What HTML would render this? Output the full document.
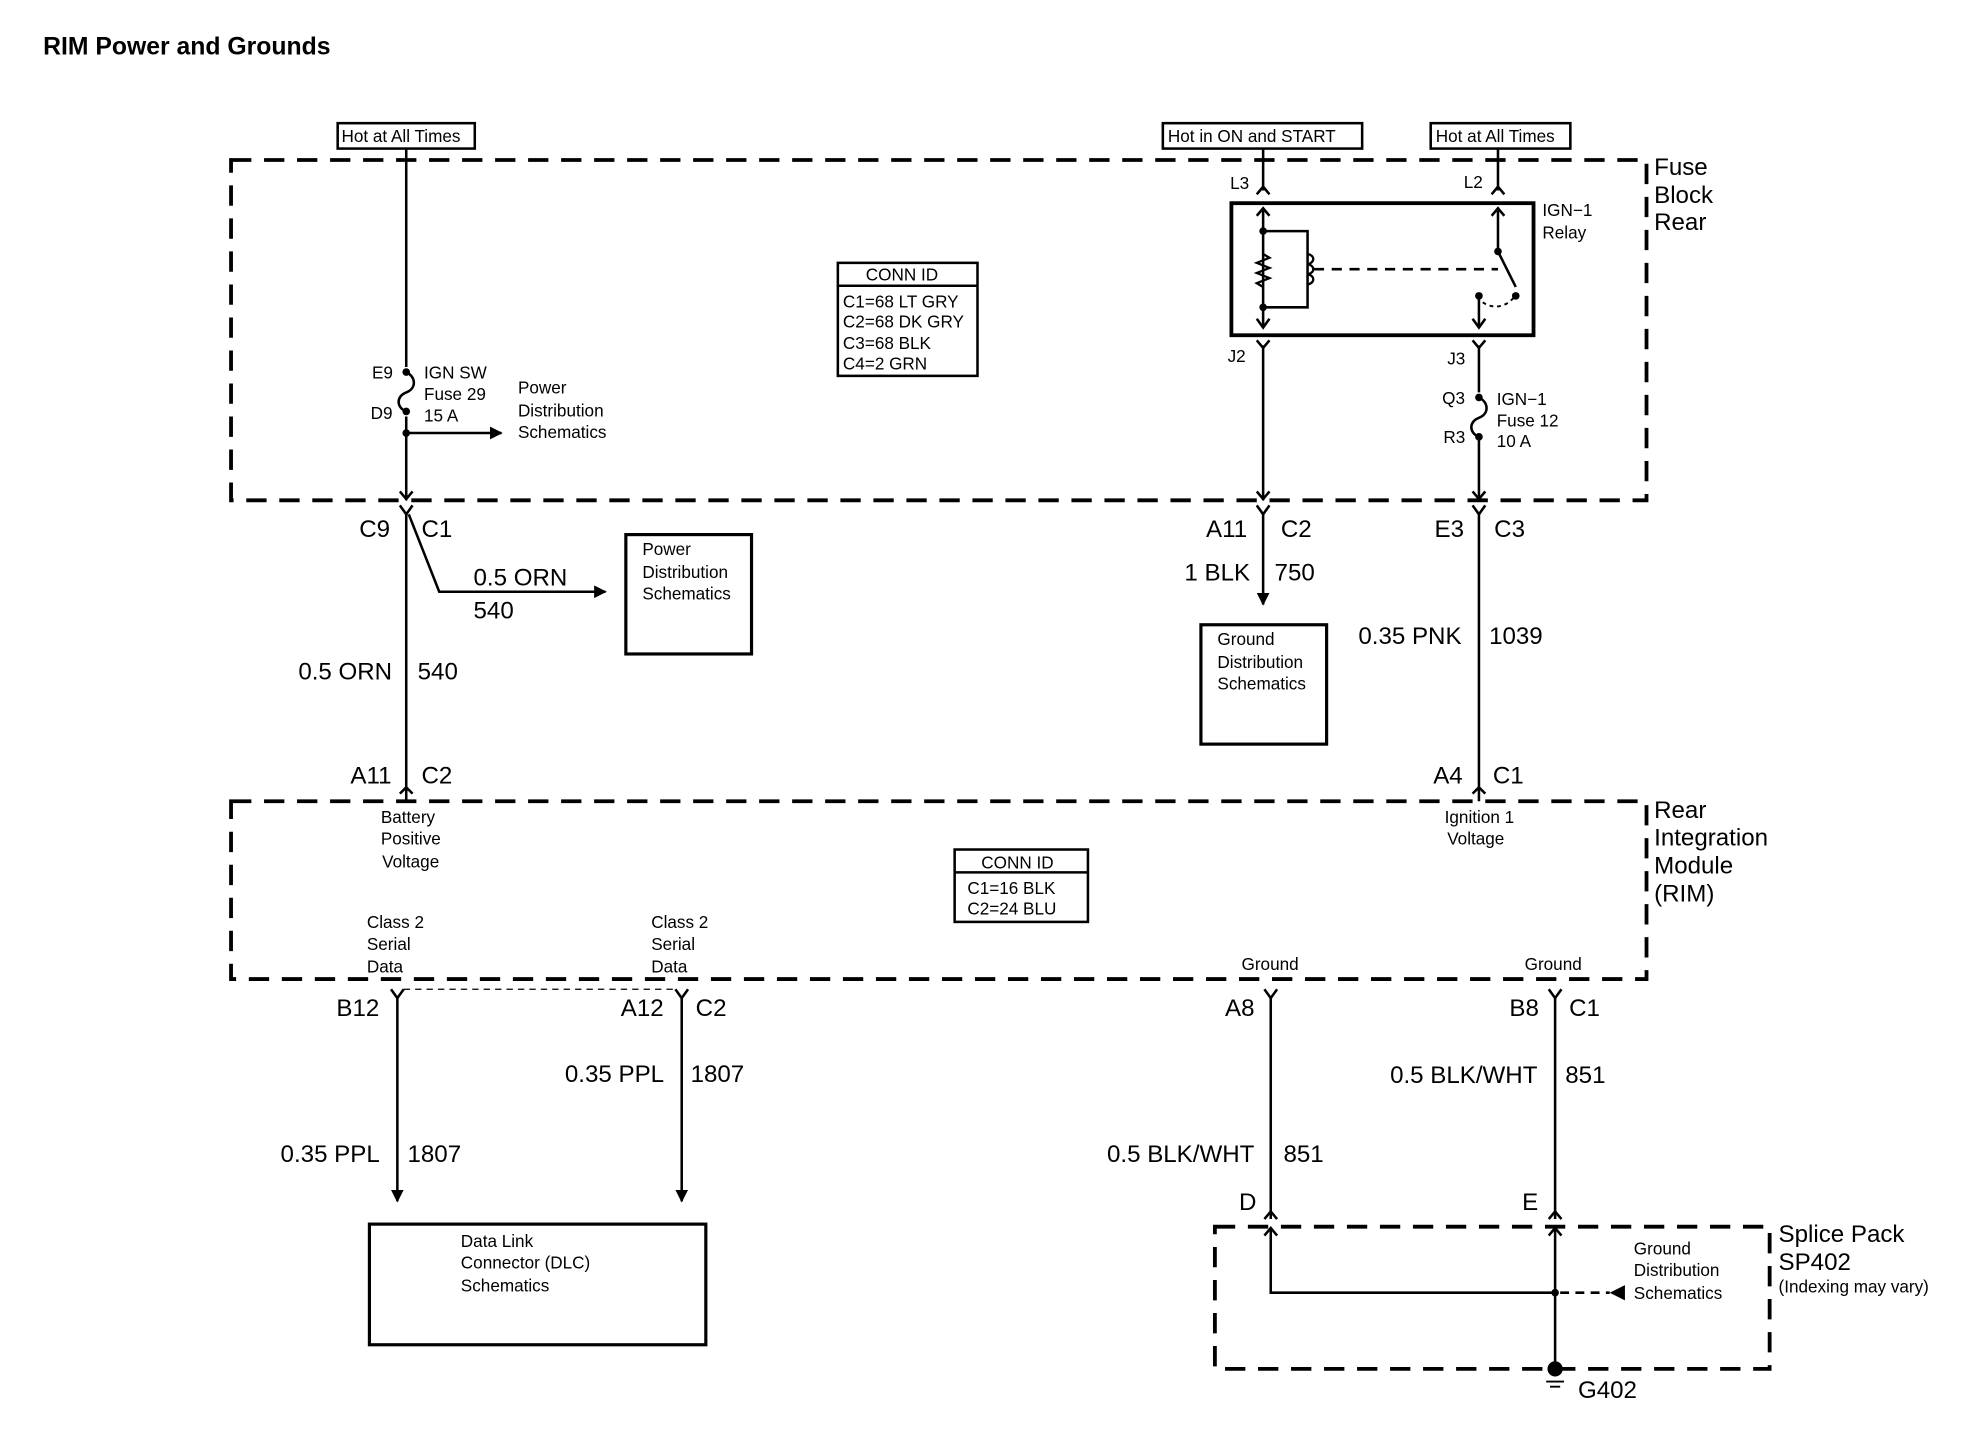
<!DOCTYPE html>
<html><head><meta charset="utf-8"><style>
html,body{margin:0;padding:0;background:#fff}
svg{display:block}
text{font-family:"Liberation Sans",Arial,sans-serif;fill:#000}
.s{font-size:13.5px}
.m{font-size:19px}
.b{font-size:19px}
</style></head><body>
<svg width="1988" height="1440" viewBox="0 0 1566 1134" preserveAspectRatio="none" xmlns="http://www.w3.org/2000/svg">
<defs>
<marker id="ah" markerWidth="10" markerHeight="10" refX="9" refY="5" orient="auto" markerUnits="userSpaceOnUse"><path d="M0,0 L10,5 L0,10 Z" fill="#000"/></marker>
</defs>
<rect width="1566" height="1134" fill="#fff"/>
<text x="34" y="43" style="font-size:19.5px;font-weight:bold">RIM Power and Grounds</text>

<g fill="none" stroke="#000">
<rect x="182" y="126" width="1115" height="268" stroke-width="3" stroke-dasharray="16,10"/>
<rect x="182" y="631" width="1115" height="140" stroke-width="3" stroke-dasharray="16,10"/>
<rect x="957" y="966" width="437" height="112" stroke-width="3" stroke-dasharray="16,10"/>

<rect x="266" y="97" width="108" height="20" stroke-width="2"/>
<rect x="916" y="97" width="157" height="20" stroke-width="2"/>
<rect x="1127" y="97" width="110" height="20" stroke-width="2"/>

<path d="M320 117 V289 M320 328 V394" stroke-width="2"/>
<path d="M320 293 C328 297,328 306,320 309 C312 312,312 321,320 324" stroke-width="2"/>
<path d="M315 387 L320 393 L325 387" stroke-width="2"/>
<path d="M320 341 H395" stroke-width="2" marker-end="url(#ah)"/>
<path d="M320 404 V631" stroke-width="2"/>
<path d="M315 398 L320 405 L325 398" stroke-width="2"/>
<path d="M322 405 L346 466 H477" stroke-width="2" marker-end="url(#ah)"/>
<rect x="493" y="421" width="99" height="94" stroke-width="2.5"/>
<path d="M315 625 L320 620 L325 625" stroke-width="2"/>

<rect x="660" y="207" width="110" height="89" stroke-width="2"/>
<path d="M660 225 H770" stroke-width="2"/>
<rect x="752" y="669" width="105" height="57" stroke-width="2"/>
<path d="M752 687 H857" stroke-width="2"/>

<path d="M995 117 V150 M1180 117 V150" stroke-width="2"/>
<path d="M990 153 L995 147 L1000 153 M1175 153 L1180 147 L1185 153" stroke-width="2"/>
<rect x="970" y="160" width="238" height="104" stroke-width="3"/>
<path d="M995 164 V258" stroke-width="2"/>
<path d="M990 170 L995 164 L1000 170 M990 251 L995 258 L1000 251" stroke-width="2"/>
<path d="M995 182 H1030 V242 H995" stroke-width="2"/>
<path d="M995 200 L1000 203 L990 207 L1000 211 L990 215 L1000 219 L990 223 L995 226" stroke-width="1.8"/>
<path d="M1030 200 C1036 201,1036 207,1030 208 C1036 209,1036 215,1030 216 C1036 217,1036 223,1030 224" stroke-width="1.8"/>
<path d="M1035 212 H1180" stroke-width="2" stroke-dasharray="8,6"/>
<path d="M1180 164 V198" stroke-width="2"/>
<path d="M1175 170 L1180 164 L1185 170" stroke-width="2"/>
<path d="M1180 198 L1194 226" stroke-width="2"/>
<path d="M1165 233 V258" stroke-width="2"/>
<path d="M1160 251 L1165 258 L1170 251" stroke-width="2"/>
<path d="M1168 238 C1176 244,1188 242,1194 232" stroke-width="1.5" stroke-dasharray="3,3"/>
<path d="M990 268 L995 274 L1000 268 M1160 268 L1165 274 L1170 268" stroke-width="2"/>
<path d="M995 272 V394 M1165 272 V309 M1165 346 V394" stroke-width="2"/>
<path d="M1165 313 C1173 317,1173 326,1165 329 C1157 332,1157 341,1165 344" stroke-width="2"/>
<path d="M990 387 L995 393 L1000 387 M1160 387 L1165 393 L1170 387" stroke-width="2"/>
<path d="M990 398 L995 405 L1000 398 M1160 398 L1165 405 L1170 398" stroke-width="2"/>
<path d="M995 405 V476" stroke-width="2" marker-end="url(#ah)"/>
<rect x="946" y="492" width="99" height="94" stroke-width="2.5"/>
<path d="M1165 405 V631" stroke-width="2"/>
<path d="M1160 625 L1165 620 L1170 625" stroke-width="2"/>

<path d="M308 779 L313 786 L318 779 M532 779 L537 786 L542 779 M996 779 L1001 786 L1006 779 M1220 779 L1225 786 L1230 779" stroke-width="2"/>
<path d="M318 779 H532" stroke-width="1" stroke-dasharray="5,4"/>
<path d="M313 786 V946" stroke-width="2" marker-end="url(#ah)"/>
<path d="M537 786 V946" stroke-width="2" marker-end="url(#ah)"/>
<rect x="291" y="964" width="265" height="95" stroke-width="2.5"/>
<path d="M1001 786 V960 M1225 786 V960" stroke-width="2"/>
<path d="M996 960 L1001 954 L1006 960 M1220 960 L1225 954 L1230 960" stroke-width="2"/>
<path d="M996 973 L1001 967 L1006 973 M1220 973 L1225 967 L1230 973" stroke-width="2"/>
<path d="M1001 967 V1018 H1225 M1225 967 V1078" stroke-width="2"/>
<path d="M1229 1018 H1268" stroke-width="2" stroke-dasharray="7,5"/>
<path d="M1218 1088 H1232 M1221 1092 H1229" stroke-width="1.5"/>
</g>
<path d="M1280 1012 L1268 1018 L1280 1024 Z" fill="#000"/>
<circle cx="1225" cy="1018" r="3" fill="#000"/>
<circle cx="1225" cy="1078" r="6" fill="#000"/>
<g fill="#000">
<circle cx="320" cy="293" r="3"/><circle cx="320" cy="324" r="3"/><circle cx="320" cy="341" r="3"/>
<circle cx="1165" cy="313" r="3"/><circle cx="1165" cy="344" r="3"/>
<circle cx="995" cy="182" r="3"/><circle cx="995" cy="242" r="3"/>
<circle cx="1180" cy="198" r="3"/><circle cx="1194" cy="233" r="3"/><circle cx="1165" cy="233" r="3"/>
</g>

<g class="s">
<text x="269" y="112">Hot at All Times</text>
<text x="920" y="112">Hot in ON and START</text>
<text x="1131" y="112">Hot at All Times</text>
<text x="969" y="149">L3</text>
<text x="1153" y="148">L2</text>
<text x="1215" y="170">IGN−1</text>
<text x="1215" y="188">Relay</text>
<text x="967" y="285">J2</text>
<text x="1140" y="287">J3</text>
<text x="293" y="298">E9</text>
<text x="292" y="330">D9</text>
<text x="334" y="298">IGN SW</text>
<text x="334" y="315">Fuse 29</text>
<text x="334" y="332">15 A</text>
<text x="408" y="310">Power</text>
<text x="408" y="328">Distribution</text>
<text x="408" y="345">Schematics</text>
<text x="1136" y="318">Q3</text>
<text x="1137" y="349">R3</text>
<text x="1179" y="319">IGN−1</text>
<text x="1179" y="336">Fuse 12</text>
<text x="1179" y="352">10 A</text>
<text x="682" y="221">CONN ID</text>
<text x="664" y="242">C1=68 LT GRY</text>
<text x="664" y="258">C2=68 DK GRY</text>
<text x="664" y="275">C3=68 BLK</text>
<text x="664" y="291">C4=2 GRN</text>
<text x="506" y="437">Power</text>
<text x="506" y="455">Distribution</text>
<text x="506" y="472">Schematics</text>
<text x="959" y="508">Ground</text>
<text x="959" y="526">Distribution</text>
<text x="959" y="543">Schematics</text>
<text x="300" y="648">Battery</text>
<text x="300" y="665">Positive</text>
<text x="301" y="683">Voltage</text>
<text x="1138" y="648">Ignition 1</text>
<text x="1140" y="665">Voltage</text>
<text x="773" y="684">CONN ID</text>
<text x="762" y="704">C1=16 BLK</text>
<text x="762" y="720">C2=24 BLU</text>
<text x="289" y="731">Class 2</text>
<text x="289" y="748">Serial</text>
<text x="289" y="766">Data</text>
<text x="513" y="731">Class 2</text>
<text x="513" y="748">Serial</text>
<text x="513" y="766">Data</text>
<text x="978" y="764">Ground</text>
<text x="1201" y="764">Ground</text>
<text x="363" y="982">Data Link</text>
<text x="363" y="999">Connector (DLC)</text>
<text x="363" y="1017">Schematics</text>
<text x="1287" y="988">Ground</text>
<text x="1287" y="1005">Distribution</text>
<text x="1287" y="1023">Schematics</text>
<text x="1401" y="1018">(Indexing may vary)</text>
</g>
<g class="b">
<text x="1303" y="138">Fuse</text>
<text x="1303" y="160">Block</text>
<text x="1303" y="181">Rear</text>
<text x="1303" y="644">Rear</text>
<text x="1303" y="666">Integration</text>
<text x="1303" y="688">Module</text>
<text x="1303" y="710">(RIM)</text>
<text x="1401" y="978">Splice Pack</text>
<text x="1401" y="1000">SP402</text>
<text x="1243" y="1101">G402</text>
</g>
<g class="m">
<text x="283" y="423">C9</text><text x="332" y="423">C1</text>
<text x="373" y="461">0.5 ORN</text><text x="373" y="487">540</text>
<text x="235" y="535">0.5 ORN</text><text x="329" y="535">540</text>
<text x="276" y="617">A11</text><text x="332" y="617">C2</text>
<text x="950" y="423">A11</text><text x="1009" y="423">C2</text>
<text x="933" y="457">1 BLK</text><text x="1004" y="457">750</text>
<text x="1130" y="423">E3</text><text x="1177" y="423">C3</text>
<text x="1070" y="507">0.35 PNK</text><text x="1173" y="507">1039</text>
<text x="1129" y="617">A4</text><text x="1176" y="617">C1</text>
<text x="265" y="800">B12</text>
<text x="489" y="800">A12</text><text x="548" y="800">C2</text>
<text x="445" y="852">0.35 PPL</text><text x="544" y="852">1807</text>
<text x="221" y="915">0.35 PPL</text><text x="321" y="915">1807</text>
<text x="965" y="800">A8</text>
<text x="1189" y="800">B8</text><text x="1236" y="800">C1</text>
<text x="1095" y="853">0.5 BLK/WHT</text><text x="1233" y="853">851</text>
<text x="872" y="915">0.5 BLK/WHT</text><text x="1011" y="915">851</text>
<text x="976" y="953">D</text>
<text x="1199" y="953">E</text>
</g>
</svg>
</body></html>
